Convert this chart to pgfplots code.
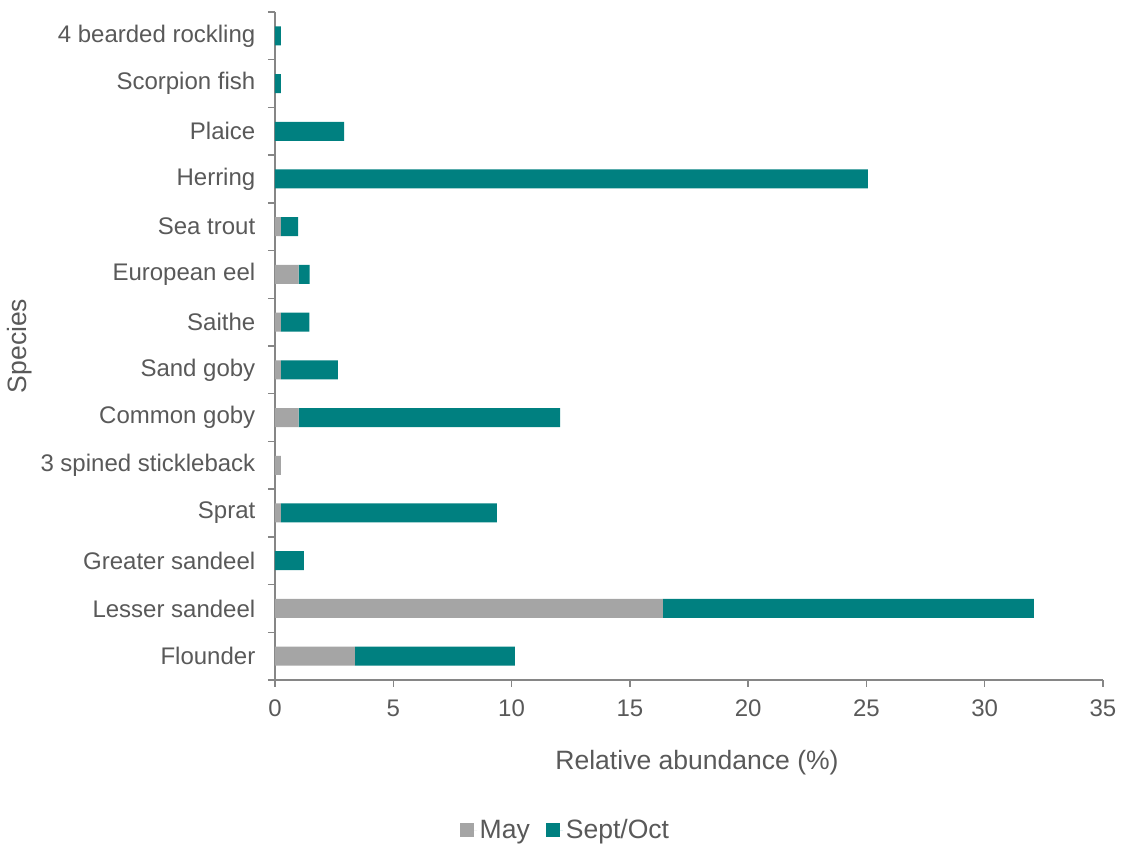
\documentclass[border=0pt]{standalone}
\usepackage{fontspec}
\setmainfont{Liberation Sans}
\usepackage{pgfplots}
\pgfplotsset{compat=1.18}
\definecolor{maygray}{HTML}{A5A5A5}
\definecolor{septteal}{HTML}{008080}
\definecolor{txt}{HTML}{595959}
\definecolor{axgray}{HTML}{868686}

\begin{document}
\begin{tikzpicture}
\useasboundingbox (-206.25pt,-126.75pt) rectangle (635.25pt,510pt);
\begin{axis}[
    at={(0,0)}, anchor=south west,
    scale only axis,
    width=621pt, height=501pt,
    xbar stacked,
    bar width=14.25pt,
    xmin=0, xmax=35,
    ymin=-0.5, ymax=13.5,
    xtick={0,5,...,35},
    ytick={0,...,13},
    yticklabels={Flounder,Lesser sandeel,Greater sandeel,Sprat,3 spined stickleback,Common goby,Sand goby,Saithe,European eel,Sea trout,Herring,Plaice,Scorpion fish,4 bearded rockling},
    minor ytick={-0.5,0.5,...,13.5},
    axis x line*=bottom,
    axis y line*=left,
    axis line style={axgray, line width=1.1pt, -},
    tick align=outside,
    major tick length=5.25pt,
    minor tick length=5.25pt,
    ytick style={draw=none},
    minor y tick style={draw=axgray, line width=1.1pt},
    xtick style={axgray, line width=1.1pt},
    tick label style={font=\fontsize{18}{20}\selectfont, text=txt},
    /pgf/number format/assume math mode=true,
    xticklabel style={yshift=-6pt},
    yticklabel style={xshift=-6pt},
    xlabel={Relative abundance (\%)},
    ylabel={Species},
    label style={font=\fontsize{19.9}{22}\selectfont, text=txt},
    xlabel style={at={(axis description cs:0.5097,-0.1243)}, anchor=center},
    ylabel style={at={(axis description cs:-0.308,0.5)}, anchor=center, rotate=0},
    legend columns=2,
    legend style={at={(axis description cs:0.3515,-0.2246)}, anchor=center, draw=none,
        font=\fontsize{19.9}{22}\selectfont, text=txt,
        /tikz/every even column/.append style={column sep=10.5pt}},
    legend image code/.code={\fill[#1] (0pt,-5.25pt) rectangle (10.5pt,5.25pt);
        \path (0pt,0pt) -- (12.5pt,0pt);},
]
\addplot[fill=maygray, draw=none] coordinates {
  (3.38,0) (16.40,1) (0,2) (0.25,3) (0.25,4) (1.0,5) (0.25,6)
  (0.25,7) (1.0,8) (0.25,9) (0,10) (0,11) (0,12) (0,13)};
\addplot[fill=septteal, draw=none] coordinates {
  (6.76,0) (15.68,1) (1.22,2) (9.13,3) (0,4) (11.05,5) (2.41,6)
  (1.20,7) (0.46,8) (0.73,9) (25.06,10) (2.92,11) (0.25,12) (0.25,13)};
\legend{May,Sept/Oct}
\end{axis}
\end{tikzpicture}
\end{document}
